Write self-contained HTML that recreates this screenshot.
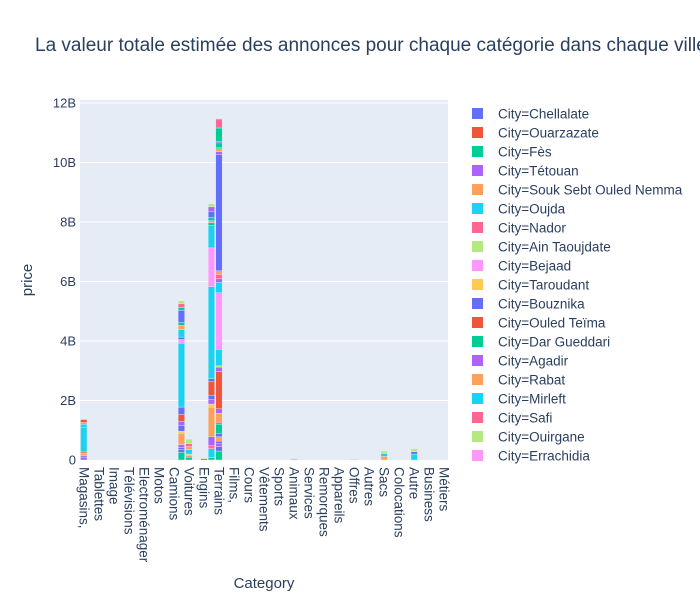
<!DOCTYPE html>
<html><head><meta charset="utf-8">
<style>
body{margin:0;background:#fff;}
svg text{font-family:"Liberation Sans",Arial,sans-serif;fill:#2a3f5f;}
</style></head>
<body>
<svg id="chart" width="700" height="600" xmlns="http://www.w3.org/2000/svg">
<rect x="0" y="0" width="700" height="600" fill="#fff"/>
<text x="35" y="51" font-size="19">La valeur totale estimée des annonces pour chaque catégorie dans chaque ville</text>
<rect x="80" y="100" width="368" height="360" fill="#E5ECF6"/>
<g id="grid"></g><g id="bars"></g><g id="yticks"></g><g id="xticks"></g>
<text transform="translate(32,280) rotate(-90)" text-anchor="middle" font-size="15">price</text>
<text x="264" y="588" text-anchor="middle" font-size="15">Category</text>
<g id="legend"></g>
</svg>
<script>
const palette=["#636efa","#EF553B","#00cc96","#ab63fa","#FFA15A","#19d3f3","#FF6692","#B6E880","#FF97FF","#FECB52"];
const cities=["Chellalate","Ouarzazate","Fès","Tétouan","Souk Sebt Ouled Nemma","Oujda","Nador","Ain Taoujdate","Bejaad","Taroudant","Bouznika","Ouled Teïma","Dar Gueddari","Agadir","Rabat","Mirleft","Safi","Ouirgane","Errachidia"];
const categories=["Magasins,","Magasins2","Tablettes","Tablettes2","Image","Image2","Télévisions","Télévisions2","Electroménager","Electroménager2","Motos","Motos2","Camions","Camions2","Voitures","Voitures2","Engins","Engins2","Terrains","Terrains2","Films,","Films2","Cours","Cours2","Vêtements","Vêtements2","Sports","Sports2","Animaux","Animaux2","Services","Services2","Remorques","Remorques2","Appareils","Appareils2","Offres","Offres2","Autres","Autres2","Sacs","Sacs2","Colocations","Colocations2","Autre","Autre2","Business","Business2","Métiers"];
const yTicks=[0,2,4,6,8,10,12];
const yTickLabels=["0","2B","4B","6B","8B","10B","12B"];
// stacks: [cityIndex, value in billions], bottom-up
const stackMagasins=[[3,0.1],[0,0.04],[4,0.08],[1,0.05],[5,0.83],[15,0.1],[14,0.06],[1,0.1],[17,0.03]];
const stackVoitures=[[2,0.25],[0,0.1],[10,0.07],[3,0.1],[4,0.38],[9,0.07],[10,0.18],[13,0.15],[1,0.24],[0,0.24],[5,2.15],[8,0.12],[10,0.08],[15,0.25],[14,0.15],[12,0.1],[0,0.4],[2,0.1],[6,0.12],[17,0.1]];
const stackVoitures2=[[2,0.08],[1,0.05],[7,0.07],[5,0.15],[14,0.1],[6,0.1],[7,0.15]];
const stackEngins=[[0,0.04],[7,0.03]];
const stackTerrainsA=[[2,0.08],[5,0.3],[6,0.1],[3,0.3],[4,1.0],[9,0.1],[13,0.15],[0,0.15],[1,0.45],[10,0.1],[5,3.1],[8,1.3],[15,0.75],[2,0.1],[14,0.06],[12,0.12],[0,0.2],[3,0.15],[17,0.1]];
const stackTerrainsB=[[2,0.3],[0,0.15],[3,0.1],[0,0.08],[14,0.15],[10,0.12],[2,0.3],[16,0.07],[4,0.3],[13,0.15],[1,1.25],[3,0.15],[7,0.05],[5,0.55],[8,1.9],[15,0.35],[13,0.12],[6,0.15],[4,0.12],[0,3.9],[3,0.1],[14,0.1],[12,0.05],[2,0.15],[10,0.05],[12,0.45],[6,0.3]];
const stackAnimaux=[[0,0.02],[1,0.02]];
const stackOffres=[[7,0.03]];
const stackSacs=[[4,0.12],[5,0.1],[7,0.08]];
const stackAutre=[[5,0.2],[0,0.08],[7,0.1]];
const stacks=[[0,stackMagasins],[13,stackVoitures],[14,stackVoitures2],[16,stackEngins],[17,stackTerrainsA],[18,stackTerrainsB],[28,stackAnimaux],[36,stackOffres],[40,stackSacs],[44,stackAutre]];

const NS="http://www.w3.org/2000/svg";
const X0=80,W=368,Y0=460,PXB=29.75;
const slot=W/categories.length;
const xC=i=>X0+(i+0.5)*slot;
const yS=v=>Y0-v*PXB;
function mk(tag,attrs,parent){const e=document.createElementNS(NS,tag);for(const k in attrs)e.setAttribute(k,attrs[k]);parent.appendChild(e);return e;}
const grid=document.getElementById('grid'),yt=document.getElementById('yticks');
yTicks.forEach((t,k)=>{
  if(t>0){const l=mk('line',{x1:X0,x2:X0+W,y1:yS(t),y2:yS(t),stroke:'#fff','stroke-width':1},grid);
  
  }
  const tx=mk('text',{x:76,y:yS(t)+4.5,'text-anchor':'end','font-size':13},yt);
  tx.textContent=yTickLabels[k];
  
  
});
const bars=document.getElementById('bars');
const bw=slot*0.86;
stacks.forEach(([ci,st])=>{
  let base=0;
  st.forEach(([city,v])=>{
    const r=mk('rect',{x:xC(ci)-bw/2,y:yS(base+v),width:bw,height:v*PXB,fill:palette[city%10],stroke:'#E5ECF6','stroke-width':0.4},bars);
    
    
    base+=v;
  });
});
const xt=document.getElementById('xticks');
categories.forEach((c,i)=>{
  if(i%2)return;
  const t=mk('text',{transform:`translate(${xC(i)-4.5},467) rotate(90)`,'font-size':13.5},xt);
  t.textContent=c;
  
  
});
const lg=document.getElementById('legend');
cities.forEach((c,i)=>{
  const y=114+19*i;
  const g=mk('g',{},lg);
  
  
  mk('rect',{x:472,y:y-6,width:11,height:11,fill:palette[i%10]},g);
  const t=mk('text',{x:498,y:y+4.5,'font-size':13.5},g);
  t.textContent='City='+c;
});
</script>
</body></html>
